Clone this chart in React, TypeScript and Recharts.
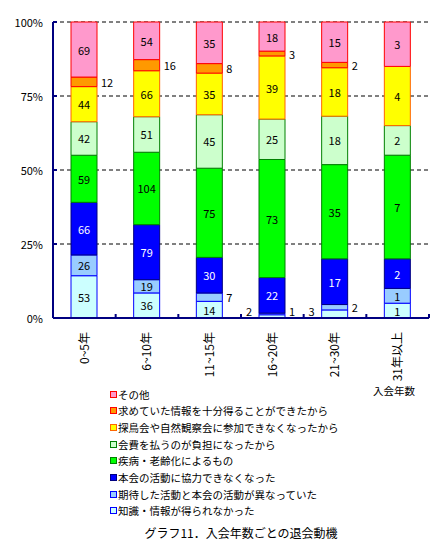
import React from 'react';
import { BarChart, Bar, XAxis, YAxis, CartesianGrid, LabelList } from 'recharts';

const categories = ['0~5年', '6~10年', '11~15年', '16~20年', '21~30年', '31年以上'];
const knowledgeVals = [53, 36, 14, 2, 3, 1];
const expectationVals = [26, 19, 7, 1, 2, 1];
const cooperationVals = [66, 79, 30, 22, 17, 2];
const illnessVals = [59, 104, 75, 73, 35, 7];
const feeVals = [42, 51, 45, 25, 18, 2];
const eventVals = [44, 66, 35, 39, 18, 4];
const satisfiedVals = [12, 16, 8, 3, 2, 0];
const otherVals = [69, 54, 35, 18, 15, 3];
const yTicks = [0, 0.25, 0.5, 0.75, 1];

const FONT = '"Noto Sans CJK JP", "Noto Sans", sans-serif';
const W = 434;
const H = 553;
const MARGIN = { top: 22, right: 5, left: 0, bottom: 0 };
const Y_W = 53;
const X_H = 235;
const PLOT_BOTTOM = H - MARGIN.bottom - X_H;
const BAND = (W - MARGIN.left - MARGIN.right - Y_W) / categories.length;
const NAVY = '#000080';

type Series = {
  key: string;
  name: string;
  values: number[];
  fill: string;
  stroke: string;
  text: string;
  side: 'left' | 'right';
};

const series: Series[] = [
  { key: 's0', name: '知識・情報が得られなかった', values: knowledgeVals, fill: '#CCFFFF', stroke: '#0000FF', text: '#000', side: 'left' },
  { key: 's1', name: '期待した活動と本会の活動が異なっていた', values: expectationVals, fill: '#99CCFF', stroke: '#0000FF', text: '#000', side: 'right' },
  { key: 's2', name: '本会の活動に協力できなくなった', values: cooperationVals, fill: '#0000FF', stroke: '#000080', text: '#fff', side: 'right' },
  { key: 's3', name: '疾病・老齢化によるもの', values: illnessVals, fill: '#00FF00', stroke: '#008000', text: '#000', side: 'right' },
  { key: 's4', name: '会費を払うのが負担になったから', values: feeVals, fill: '#CCFFCC', stroke: '#008000', text: '#000', side: 'right' },
  { key: 's5', name: '探鳥会や自然観察会に参加できなくなったから', values: eventVals, fill: '#FFFF00', stroke: '#FF6600', text: '#000', side: 'right' },
  { key: 's6', name: '求めていた情報を十分得ることができたから', values: satisfiedVals, fill: '#FF9900', stroke: '#FF0000', text: '#000', side: 'right' },
  { key: 's7', name: 'その他', values: otherVals, fill: '#FF99CC', stroke: '#FF0000', text: '#000', side: 'right' },
];

const data = categories.map((name, i) => {
  const row: Record<string, string | number> = { name };
  series.forEach((s) => {
    row[s.key] = s.values[i];
  });
  return row;
});

const makeLabel = (s: Series) => (props: any) => {
  const { x, y, width, height, index } = props;
  const v = s.values[index];
  const h = Math.abs(Number(height) || 0);
  const top = Math.min(Number(y), Number(y) + (Number(height) || 0));
  let cy = top + h / 2;
  if (h >= 12) {
    return (
      <text x={Number(x) + Number(width) / 2} y={cy} textAnchor="middle" dominantBaseline="central" fill={s.text} fontSize={11} fontFamily={FONT}>
        {v}
      </text>
    );
  }
  cy = Math.min(cy, PLOT_BOTTOM - 7);
  if (s.side === 'left') {
    return (
      <text x={Number(x) - 7} y={cy} textAnchor="end" dominantBaseline="central" fill="#000" fontSize={11} fontFamily={FONT}>
        {v}
      </text>
    );
  }
  return (
    <text x={Number(x) + Number(width) + 4} y={cy} textAnchor="start" dominantBaseline="central" fill="#000" fontSize={11} fontFamily={FONT}>
      {v}
    </text>
  );
};

const YTick = (props: any) => {
  const { x, y, payload } = props;
  return (
    <g>
      <line x1={x + 10} x2={x + 14} y1={y} y2={y} stroke={NAVY} strokeWidth={2} />
      <text x={x} y={y} textAnchor="end" dominantBaseline="central" fontSize={11} fontFamily={FONT} fill="#000">
        {Math.round(payload.value * 100) + '%'}
      </text>
    </g>
  );
};

const XTick = (props: any) => {
  const { x, y, payload } = props;
  const axisY = y - 14;
  return (
    <g>
      <line x1={x + BAND / 2} x2={x + BAND / 2} y1={axisY} y2={axisY - 4} stroke={NAVY} strokeWidth={2} />
      <text
        x={x}
        y={y}
        transform={`rotate(-90, ${x}, ${y})`}
        textAnchor="end"
        dy="0.35em"
        fontSize={12}
        fontFamily={FONT}
        fill="#000"
      >
        {payload.value}
      </text>
    </g>
  );
};

export default function App() {
  const legendItems = [...series].reverse();
  return (
    <div style={{ position: 'absolute', left: 0, top: 0, width: W, height: H, background: '#fff', fontFamily: FONT }}>
      <BarChart width={W} height={H} data={data} stackOffset="expand" margin={MARGIN}>
        <CartesianGrid vertical={false} stroke="#000" strokeDasharray="4 3" />
        <XAxis
          dataKey="name"
          height={X_H}
          interval={0}
          axisLine={{ stroke: NAVY, strokeWidth: 2 }}
          tickLine={false}
          tickSize={0}
          tickMargin={14}
          tick={<XTick />}
        />
        <YAxis
          type="number"
          domain={[0, 1]}
          ticks={yTicks}
          width={Y_W}
          axisLine={{ stroke: NAVY, strokeWidth: 2 }}
          tickLine={false}
          tickSize={0}
          tickMargin={10}
          tick={<YTick />}
        />
        {series.map((s) => (
          <Bar
            key={s.key}
            dataKey={s.key}
            name={s.name}
            stackId="a"
            fill={s.fill}
            stroke={s.stroke}
            strokeWidth={1}
            barSize={26}
            isAnimationActive={false}
          >
            <LabelList dataKey={s.key} content={makeLabel(s)} />
          </Bar>
        ))}
      </BarChart>
      <div style={{ position: 'absolute', left: 373, top: 383, fontSize: 10.5, lineHeight: '16px', color: '#000', whiteSpace: 'nowrap' }}>
        入会年数
      </div>
      <div style={{ position: 'absolute', left: 110, top: 386, fontSize: 10.5, color: '#000' }}>
        {legendItems.map((s) => (
          <div key={s.key} style={{ height: 16.67, display: 'flex', alignItems: 'center', whiteSpace: 'nowrap' }}>
            <span
              style={{
                display: 'inline-block',
                width: 5,
                height: 5,
                background: s.fill,
                border: `1px solid ${s.stroke}`,
              }}
            />
            <span style={{ marginLeft: 1 }}>{s.name}</span>
          </div>
        ))}
      </div>
      <div style={{ position: 'absolute', left: 0, width: 482, top: 525, textAlign: 'center', fontSize: 12, lineHeight: '16px', color: '#000', whiteSpace: 'nowrap' }}>
        グラフ11．入会年数ごとの退会動機
      </div>
    </div>
  );
}
